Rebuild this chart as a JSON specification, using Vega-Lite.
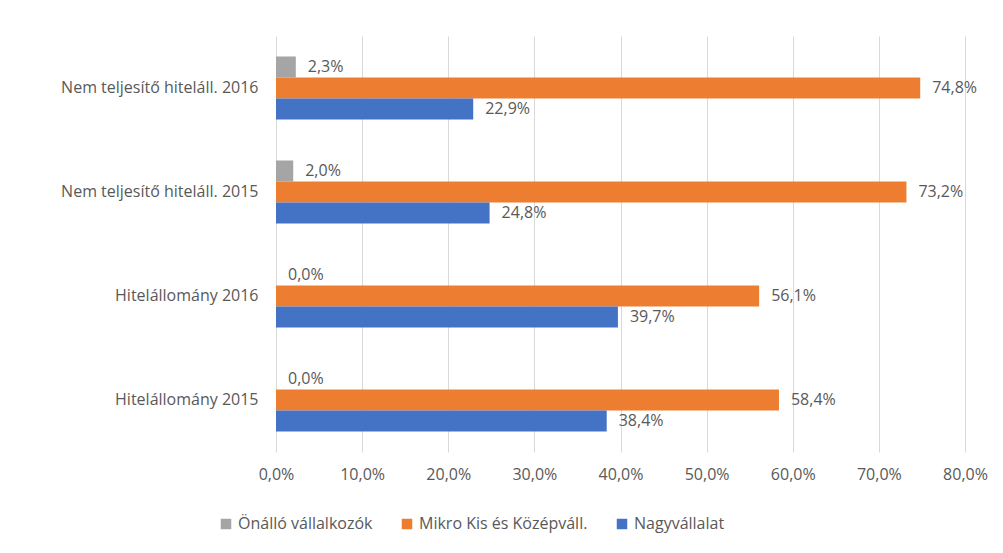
{
  "$schema": "https://vega.github.io/schema/vega-lite/v6.json",
  "autosize": "none",
  "width": 689,
  "height": 416,
  "padding": {"left": 276, "top": 36, "right": 38, "bottom": 101},
  "background": "white",
  "config": {
    "locale": {"number": {"decimal": ",", "thousands": " ", "grouping": [3], "currency": ["", ""]}},
    "view": {"stroke": null},
    "font": "Open Sans",
    "axis": {"labelFont": "Open Sans", "labelColor": "#595959", "labelFontSize": 16, "domain": false, "ticks": false, "title": null, "labelOverlap": false, "labelLimit": 400},
    "legend": {"labelFont": "Open Sans", "labelColor": "#595959", "labelFontSize": 16, "labelLimit": 400}
  },
  "data": {
    "values": [
      {"cat": "Nem teljesítő hiteláll. 2016", "series": "Önálló vállalkozók", "v": 0.023},
      {"cat": "Nem teljesítő hiteláll. 2016", "series": "Mikro Kis és Középváll.", "v": 0.748},
      {"cat": "Nem teljesítő hiteláll. 2016", "series": "Nagyvállalat", "v": 0.229},
      {"cat": "Nem teljesítő hiteláll. 2015", "series": "Önálló vállalkozók", "v": 0.020},
      {"cat": "Nem teljesítő hiteláll. 2015", "series": "Mikro Kis és Középváll.", "v": 0.732},
      {"cat": "Nem teljesítő hiteláll. 2015", "series": "Nagyvállalat", "v": 0.248},
      {"cat": "Hitelállomány 2016", "series": "Önálló vállalkozók", "v": 0.0},
      {"cat": "Hitelállomány 2016", "series": "Mikro Kis és Középváll.", "v": 0.561},
      {"cat": "Hitelállomány 2016", "series": "Nagyvállalat", "v": 0.397},
      {"cat": "Hitelállomány 2015", "series": "Önálló vállalkozók", "v": 0.0},
      {"cat": "Hitelállomány 2015", "series": "Mikro Kis és Középváll.", "v": 0.584},
      {"cat": "Hitelállomány 2015", "series": "Nagyvállalat", "v": 0.384}
    ]
  },
  "encoding": {
    "y": {
      "field": "cat", "type": "nominal",
      "sort": ["Nem teljesítő hiteláll. 2016", "Nem teljesítő hiteláll. 2015", "Hitelállomány 2016", "Hitelállomány 2015"],
      "scale": {"paddingInner": 0.394, "paddingOuter": 0.197},
      "axis": {"labelPadding": 18, "grid": false}
    },
    "yOffset": {
      "field": "series", "type": "nominal",
      "sort": ["Önálló vállalkozók", "Mikro Kis és Középváll.", "Nagyvállalat"],
      "scale": {"paddingInner": 0, "paddingOuter": 0}
    },
    "x": {
      "field": "v", "type": "quantitative",
      "scale": {"domain": [0, 0.8], "nice": false},
      "axis": {"format": ".1%", "values": [0, 0.1, 0.2, 0.3, 0.4, 0.5, 0.6, 0.7, 0.8], "grid": true, "gridColor": "#d9d9d9", "labelPadding": 14, "labelFlush": false}
    }
  },
  "layer": [
    {
      "mark": {"type": "bar"},
      "encoding": {
        "color": {
          "field": "series", "type": "nominal",
          "sort": ["Önálló vállalkozók", "Mikro Kis és Középváll.", "Nagyvállalat"],
          "scale": {"domain": ["Önálló vállalkozók", "Mikro Kis és Középváll.", "Nagyvállalat"], "range": ["#A5A5A5", "#ED7D31", "#4472C4"]},
          "legend": {"title": null, "orient": "none", "direction": "horizontal", "legendX": -58, "legendY": 480, "symbolType": "square", "symbolSize": 110, "symbolStrokeWidth": 0, "labelOffset": 4, "columnPadding": 26}
        }
      }
    },
    {
      "mark": {"type": "text", "align": "left", "baseline": "middle", "dx": 12, "fontSize": 16, "color": "#595959", "font": "Open Sans"},
      "encoding": {
        "text": {"field": "v", "type": "quantitative", "format": ".1%"}
      }
    }
  ]
}
